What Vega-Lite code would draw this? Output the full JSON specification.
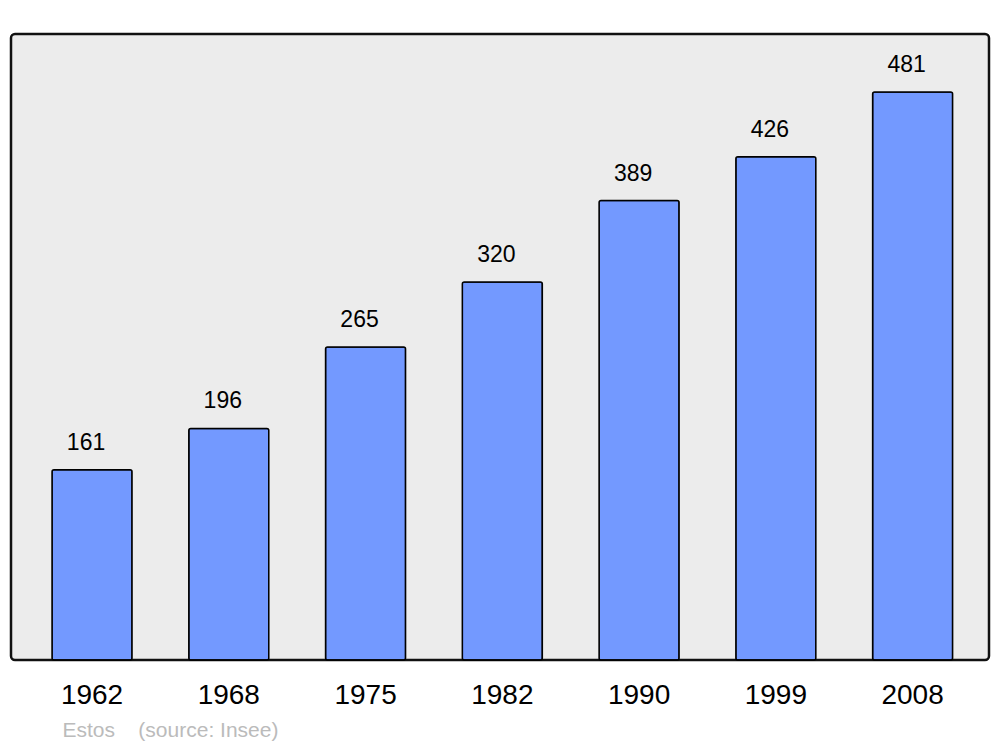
{
  "$schema": "https://vega.github.io/schema/vega-lite/v6.json",
  "width": 978,
  "height": 626,
  "autosize": {"type": "none"},
  "padding": {"left": 11, "top": 34, "right": 11, "bottom": 87},
  "background": "white",
  "config": {
    "view": {"fill": "#ececec", "stroke": "#111111", "strokeWidth": 2.5, "cornerRadius": 4},
    "font": "Liberation Sans"
  },
  "data": {
    "values": [
      {"year": "1962", "pop": 161},
      {"year": "1968", "pop": 196},
      {"year": "1975", "pop": 265},
      {"year": "1982", "pop": 320},
      {"year": "1990", "pop": 389},
      {"year": "1999", "pop": 426},
      {"year": "2008", "pop": 481}
    ]
  },
  "encoding": {
    "x": {
      "field": "year",
      "type": "ordinal",
      "sort": null,
      "scale": {"paddingInner": 0.415, "paddingOuter": 0.283, "align": 0.53},
      "axis": {
        "title": "Estos\u00a0\u00a0\u00a0\u00a0(source: Insee)",
        "titleFont": "Liberation Sans",
        "titleFontSize": 21,
        "titleFontWeight": "normal",
        "titleColor": "#bbbbbb",
        "titleAnchor": null,
        "titleAlign": "left",
        "titleBaseline": "middle",
        "titleX": 51,
        "titleY": 70,
        "labelAngle": 0,
        "labelFontSize": 28,
        "labelColor": "#000000",
        "labelPadding": 21,
        "domain": false,
        "ticks": false,
        "grid": false
      }
    },
    "y": {
      "field": "pop",
      "type": "quantitative",
      "scale": {"domain": [0, 530], "nice": false},
      "axis": null
    }
  },
  "layer": [
    {
      "mark": {"type": "bar", "fill": "#7399ff", "stroke": "#000000", "strokeWidth": 1.5, "cornerRadius": 2}
    },
    {
      "mark": {"type": "text", "fontSize": 23, "color": "#000000", "dx": -6, "dy": -20, "baseline": "alphabetic", "align": "center"},
      "encoding": {"text": {"field": "pop", "type": "quantitative"}}
    }
  ]
}
